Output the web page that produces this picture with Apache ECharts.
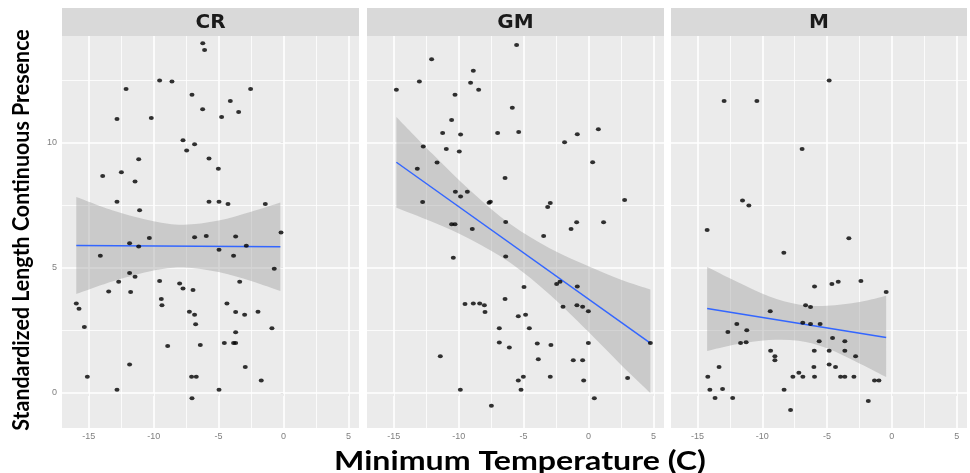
<!DOCTYPE html>
<html>
<head>
<meta charset="utf-8">
<script src="https://cdn.jsdelivr.net/npm/echarts@6/dist/echarts.min.js"></script>
<style>
  html, body { margin: 0; padding: 0; background: #ffffff; }
  #chart { width: 970px; height: 473px; }
</style>
</head>
<body>
<div id="chart"></div>
<script>
// Facet labels
const panelNames = ['CR', 'GM', 'M'];

// Observations per facet: [minimum temperature, standardized length]
const crPoints = [
  [-6.22,13.96],[-6.08,13.69],[-9.54,12.47],[-8.59,12.43],[-12.12,12.13],[-2.54,12.13],[-7.05,11.90],
  [-4.10,11.65],[-6.23,11.33],[-3.46,11.22],[-12.82,10.94],[-10.18,10.98],[-4.77,11.02],[-7.74,10.09],
  [-6.85,9.93],[-7.46,9.68],[-11.15,9.33],[-5.74,9.36],[-13.92,8.66],[-12.48,8.81],[-11.43,8.44],
  [-5.02,8.95],[-12.82,7.63],[-5.74,7.63],[-4.97,7.63],[-4.28,7.54],[-1.41,7.54],[-11.08,7.29],
  [-0.20,6.41],[-10.33,6.19],[-6.85,6.22],[-5.95,6.27],[-3.69,6.25],[-11.85,5.98],[-11.15,5.85],
  [-2.87,5.88],[-4.97,5.72],[-14.10,5.48],[-3.85,5.48],[-0.72,4.96],[-11.85,4.79],[-11.43,4.64],
  [-12.69,4.44],[-9.54,4.47],[-8.00,4.37],[-3.38,4.44],[-7.74,4.17],[-6.97,4.11],[-13.46,4.05],
  [-11.77,4.03],[-15.95,3.57],[-15.74,3.36],[-9.41,3.75],[-9.36,3.50],[-4.36,3.57],[-7.25,3.24],
  [-6.85,3.12],[-3.69,3.23],[-3.00,3.12],[-1.97,3.24],[-15.33,2.63],[-6.77,2.74],[-0.90,2.58],
  [-3.69,2.42],[-8.92,1.87],[-6.41,1.91],[-4.56,1.99],[-3.85,1.99],[-3.69,1.99],[-11.85,1.14],
  [-2.95,1.04],[-15.10,0.65],[-7.08,0.65],[-6.72,0.65],[-1.72,0.50],[-12.82,0.13],[-4.97,0.13],
  [-7.05,-0.21]
];
const gmPoints = [
  [-5.54,13.89],[-12.08,13.32],[-8.87,12.86],[-13.02,12.43],[-9.08,12.38],[-14.79,12.10],[-8.46,12.10],
  [-10.28,11.90],[-5.87,11.39],[-10.54,10.90],[-11.23,10.38],[-9.85,10.32],[-7.00,10.38],[-5.38,10.42],
  [0.75,10.53],[-0.87,10.33],[-1.85,10.01],[-12.72,9.84],[-10.95,9.74],[-9.95,9.64],[0.31,9.21],
  [-11.66,9.20],[-13.18,8.95],[-6.43,8.58],[-10.25,8.03],[-9.33,8.03],[-9.85,7.84],[-12.77,7.62],
  [-7.66,7.59],[-7.56,7.63],[-2.95,7.58],[-3.15,7.42],[2.77,7.70],[-10.54,6.73],[-10.28,6.73],
  [-6.38,6.82],[-8.95,6.54],[-0.92,6.81],[-1.35,6.54],[1.15,6.81],[-3.46,6.27],[-10.41,5.40],
  [-6.38,5.45],[-2.46,4.35],[-2.20,4.44],[-0.87,4.25],[-4.97,4.23],[-9.51,3.55],[-8.87,3.57],
  [-8.38,3.57],[-8.02,3.50],[-7.97,3.23],[-6.43,3.75],[-1.97,3.44],[-0.90,3.50],[-0.46,3.44],
  [-0.02,3.26],[-5.41,3.06],[-4.85,3.12],[-6.87,2.58],[-4.56,2.58],[4.75,1.99],[-0.02,1.99],
  [-6.87,2.01],[-3.95,1.97],[-2.90,1.91],[-6.10,1.81],[-11.41,1.46],[-3.87,1.34],[-1.18,1.30],
  [-0.46,1.30],[-5.02,0.65],[-2.95,0.65],[3.00,0.60],[-5.41,0.50],[-0.38,0.50],[-9.87,0.13],
  [-5.20,0.13],[0.44,-0.21],[-7.48,-0.51]
];
const mPoints = [
  [-4.84,12.47],[-12.95,11.65],[-10.42,11.65],[-6.93,9.74],[-11.53,7.68],[-11.04,7.48],[-14.26,6.50],
  [-3.32,6.18],[-8.34,5.60],[-5.97,4.25],[-4.63,4.35],[-4.14,4.44],[-2.39,4.47],[-0.44,4.03],
  [-6.66,3.50],[-6.28,3.43],[-9.39,3.26],[-6.88,2.80],[-6.28,2.75],[-5.54,2.75],[-11.97,2.75],
  [-11.20,2.50],[-12.66,2.43],[-4.58,2.19],[-11.68,1.99],[-11.25,2.02],[-5.61,2.06],[-3.63,2.06],
  [-9.36,1.68],[-5.99,1.68],[-4.84,1.68],[-3.63,1.68],[-9.03,1.46],[-9.03,1.30],[-2.80,1.46],
  [-13.34,1.04],[-6.02,1.04],[-4.84,1.14],[-4.35,1.04],[-14.21,0.65],[-7.64,0.65],[-7.18,0.81],
  [-6.87,0.65],[-5.97,0.65],[-3.96,0.65],[-3.63,0.65],[-2.93,0.65],[-1.34,0.50],[-1.00,0.50],
  [-14.05,0.13],[-13.07,0.16],[-8.32,0.13],[-13.65,-0.20],[-12.29,-0.20],[-1.82,-0.32],[-7.82,-0.68]
];

// Linear fit end points per facet
const crFitX = [-15.95, -0.25];  const crFitY = [5.89, 5.84];
const gmFitX = [-14.79, 4.75];   const gmFitY = [9.21, 1.99];
const mFitX  = [-14.26, -0.44];  const mFitY  = [3.37, 2.21];

// 95% confidence band per facet
const crBandX    = [-15.95, -13.0, -10.0, -7.7, -5.0, -2.5, -0.25];
const crBandLow  = [3.95, 4.48, 4.89, 5.01, 4.83, 4.47, 4.07];
const crBandHigh = [7.82, 7.26, 6.85, 6.71, 6.88, 7.23, 7.60];

const gmBandX    = [-14.79, -12.0, -9.0, -6.0, -3.0, 0.0, 2.5, 4.75];
const gmBandLow  = [7.39, 6.82, 6.11, 5.19, 3.93, 2.43, 1.12, 0.0];
const gmBandHigh = [11.02, 9.54, 8.03, 6.73, 5.78, 5.06, 4.52, 4.13];

const mBandX    = [-14.26, -12.0, -9.5, -7.2, -5.0, -2.5, -0.44];
const mBandLow  = [1.67, 1.94, 2.11, 2.08, 1.78, 1.18, 0.64];
const mBandHigh = [5.03, 4.45, 3.86, 3.53, 3.48, 3.63, 3.88];

// Axis ticks and grid lines
const xTicks = [-15, -10, -5, 0, 5];
const yTicks = [0, 5, 10];
const xMinor = [-12.5, -7.5, -2.5, 2.5];
const yMinor = [2.5, 7.5, 12.5];

const panels = [
  { name: panelNames[0], pts: crPoints, fx: crFitX, fy: crFitY, bx: crBandX, lo: crBandLow, hi: crBandHigh },
  { name: panelNames[1], pts: gmPoints, fx: gmFitX, fy: gmFitY, bx: gmBandX, lo: gmBandLow, hi: gmBandHigh },
  { name: panelNames[2], pts: mPoints,  fx: mFitX,  fy: mFitY,  bx: mBandX,  lo: mBandLow,  hi: mBandHigh }
];

const layout = [
  { left: 62,  width: 297 },
  { left: 367, width: 297 },
  { left: 671, width: 296 }
];
const gridTop = 36, gridHeight = 392;
const stripTop = 8, stripH = 28;

const tickFont = { fontSize: 9, color: '#7f7f7f', fontFamily: 'Liberation Sans' };

// Smooth open curve through screen points (Catmull-Rom as cubic Bezier segments)
function curveSegments(pts, tension) {
  let d = '';
  for (let i = 0; i < pts.length - 1; i++) {
    const p0 = pts[Math.max(i - 1, 0)], p1 = pts[i], p2 = pts[i + 1], p3 = pts[Math.min(i + 2, pts.length - 1)];
    const c1x = p1[0] + (p2[0] - p0[0]) * tension, c1y = p1[1] + (p2[1] - p0[1]) * tension;
    const c2x = p2[0] - (p3[0] - p1[0]) * tension, c2y = p2[1] - (p3[1] - p1[1]) * tension;
    d += ' C' + c1x + ' ' + c1y + ' ' + c2x + ' ' + c2y + ' ' + p2[0] + ' ' + p2[1];
  }
  return d;
}

function bandRenderer(p) {
  return function (params, api) {
    const up = p.bx.map((x, k) => api.coord([x, p.hi[k]]));
    const dn = p.bx.map((x, k) => api.coord([x, p.lo[k]])).reverse();
    let d = 'M' + up[0][0] + ' ' + up[0][1] + curveSegments(up, 1 / 6);
    d += ' L' + dn[0][0] + ' ' + dn[0][1] + curveSegments(dn, 1 / 6) + ' Z';
    return {
      type: 'path',
      shape: { pathData: d },
      style: { fill: 'rgba(153,153,153,0.4)', stroke: null }
    };
  };
}

const grids = [], xAxes = [], yAxes = [], series = [], graphics = [];

panels.forEach((p, i) => {
  const L = layout[i];
  grids.push({ left: L.left, top: gridTop, width: L.width, height: gridHeight,
               show: true, backgroundColor: '#ebebeb', borderWidth: 0 });
  xAxes.push({
    type: 'value', gridIndex: i, min: -17.05, max: 5.8,
    axisLine: { show: false },
    splitLine: { show: false },
    axisTick: { show: true, length: 3, lineStyle: { color: '#999999' }, customValues: xTicks },
    axisLabel: Object.assign({ margin: 4, customValues: xTicks, formatter: v => String(v) }, tickFont)
  });
  yAxes.push({
    type: 'value', gridIndex: i, min: -1.4, max: 14.25,
    axisLine: { show: false },
    splitLine: { show: false },
    axisTick: { show: i === 0, length: 3, lineStyle: { color: '#999999' }, customValues: yTicks },
    axisLabel: Object.assign({ show: i === 0, margin: 5, customValues: yTicks, formatter: v => String(v) }, tickFont)
  });

  // white panel grid lines
  const gl = [];
  xTicks.forEach(v => gl.push({ xAxis: v, lineStyle: { width: 1.6 } }));
  xMinor.forEach(v => gl.push({ xAxis: v, lineStyle: { width: 0.8 } }));
  yTicks.forEach(v => gl.push({ yAxis: v, lineStyle: { width: 1.6 } }));
  yMinor.forEach(v => gl.push({ yAxis: v, lineStyle: { width: 0.8 } }));
  series.push({
    type: 'line', xAxisIndex: i, yAxisIndex: i, data: [], z: 1, silent: true,
    markLine: { silent: true, z: 1, symbol: ['none', 'none'], label: { show: false },
                lineStyle: { color: '#ffffff', type: 'solid' }, data: gl, animation: false }
  });

  // confidence band
  series.push({
    type: 'custom', xAxisIndex: i, yAxisIndex: i, z: 2, silent: true,
    renderItem: bandRenderer(p),
    data: [[p.bx[0], p.lo[0]]]
  });

  // fitted line
  series.push({
    type: 'line', xAxisIndex: i, yAxisIndex: i, z: 3, symbol: 'none', silent: true,
    lineStyle: { color: '#3366ff', width: 1.5 },
    data: p.fx.map((x, k) => [x, p.fy[k]])
  });

  // observations
  series.push({
    type: 'scatter', xAxisIndex: i, yAxisIndex: i, z: 4, silent: true,
    symbol: 'circle', symbolSize: [5, 4],
    itemStyle: { color: '#000000' },
    data: p.pts
  });

  // facet strip
  graphics.push({
    type: 'rect', left: L.left, top: stripTop, z: 10,
    shape: { width: L.width, height: stripH },
    style: { fill: '#d9d9d9' }
  });
  graphics.push({
    type: 'text', x: L.left + L.width / 2, y: stripTop + stripH / 2 + 1, z: 11,
    style: { text: p.name, fill: '#1a1a1a', font: 'bold 20px "DejaVu Sans"',
             textAlign: 'center', textVerticalAlign: 'middle' }
  });
});

graphics.push({
  type: 'text', x: 22, y: 230, rotation: Math.PI / 2, scaleX: 1.02, scaleY: 1.1, z: 11,
  style: { text: 'Standardized Length Continuous Presence', fill: '#000000',
           font: 'bold 21px Lato', textAlign: 'center', textVerticalAlign: 'middle' }
});
graphics.push({
  type: 'text', x: 520, y: 461, scaleX: 1.19, z: 11,
  style: { text: 'Minimum Temperature (C)', fill: '#000000',
           font: 'bold 27px Lato', textAlign: 'center', textVerticalAlign: 'middle' }
});

const chart = echarts.init(document.getElementById('chart'), null, { renderer: 'canvas' });
chart.setOption({
  animation: false,
  backgroundColor: '#ffffff',
  grid: grids,
  xAxis: xAxes,
  yAxis: yAxes,
  series: series,
  graphic: graphics
});
</script>
</body>
</html>
